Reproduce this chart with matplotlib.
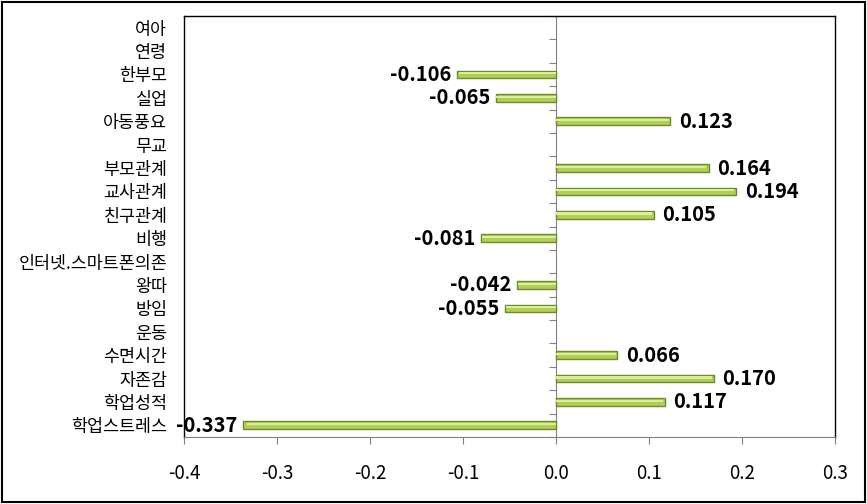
import numpy as np
import matplotlib
matplotlib.use('Agg')
import matplotlib.pyplot as plt
from matplotlib.patches import Rectangle

plt.rcParams['font.family'] = ['Noto Sans CJK KR', 'DejaVu Sans']

categories = ['여아', '연령', '한부모', '실업', '아동풍요', '무교', '부모관계', '교사관계',
              '친구관계', '비행', '인터넷.스마트폰의존', '왕따', '방임', '운동', '수면시간',
              '자존감', '학업성적', '학업스트레스']
# None = no bar shown
values = [None, None, -0.106, -0.065, 0.123, None, 0.164, 0.194,
          0.105, -0.081, None, -0.042, -0.055, None, 0.066,
          0.170, 0.117, -0.337]
xticks = [-0.4, -0.3, -0.2, -0.1, 0.0, 0.1, 0.2, 0.3]
xticklabels = ['-0.4', '-0.3', '-0.2', '-0.1', '0.0', '0.1', '0.2', '0.3']

xmin, xmax = -0.4, 0.3

fig = plt.figure(figsize=(8.67, 5.04), dpi=100)
ax = fig.add_axes([184/867, 67/504, (835-184)/867, (437-16)/504])

y = np.arange(len(categories))
vals = np.array([np.nan if v is None else v for v in values])
mask = ~np.isnan(vals)

ax.barh(y[mask], vals[mask], height=0.33, color='#b0d055', edgecolor='#6f8a2a', linewidth=1.0, zorder=3)
# highlight stripe
ax.barh(y[mask] - 0.05, vals[mask] * 0.985, height=0.1, color='#dcee9c', linewidth=0, zorder=4)

for yi, v in zip(y[mask], vals[mask]):
    if v >= 0:
        ax.annotate(f'{v:.3f}', (v, yi), xytext=(6, 0), textcoords='offset points',
                    ha='left', va='center', fontsize=14.5, fontweight='bold')
    else:
        ax.annotate(f'{v:.3f}', (v, yi), xytext=(-4, 0), textcoords='offset points',
                    ha='right', va='center', fontsize=14.5, fontweight='bold')

ax.set_xlim(xmin, xmax)
ax.set_ylim(len(categories) - 0.5, -0.5)
ax.set_xticks(xticks)
ax.set_xticklabels(xticklabels, fontsize=13.5)
ax.tick_params(axis='x', direction='out', length=5, pad=14, color='#808080')
ax.set_yticks(y)
ax.set_yticklabels(categories, fontsize=12.5)
ax.tick_params(axis='y', length=0, pad=12)

for s in ['left', 'top', 'right']:
    ax.spines[s].set_color('black')
    ax.spines[s].set_linewidth(1.0)
ax.spines['bottom'].set_color('#808080')

# vertical axis at zero with tick marks between categories
sec = ax.secondary_yaxis((0 - xmin) / (xmax - xmin))
sec.yaxis.set_ticks_position('left')
sec.set_yticks(np.arange(-0.5, len(categories), 1.0))
sec.set_yticklabels([])
sec.tick_params(direction='out', length=5, color='#808080')
for s in sec.spines.values():
    s.set_color('#808080')

fig.patches.append(Rectangle((2/867, 2/504), 1 - 4/867, 1 - 4/504, transform=fig.transFigure,
                             fill=False, edgecolor='black', linewidth=1.5))

fig.savefig('out.png', dpi=100)
